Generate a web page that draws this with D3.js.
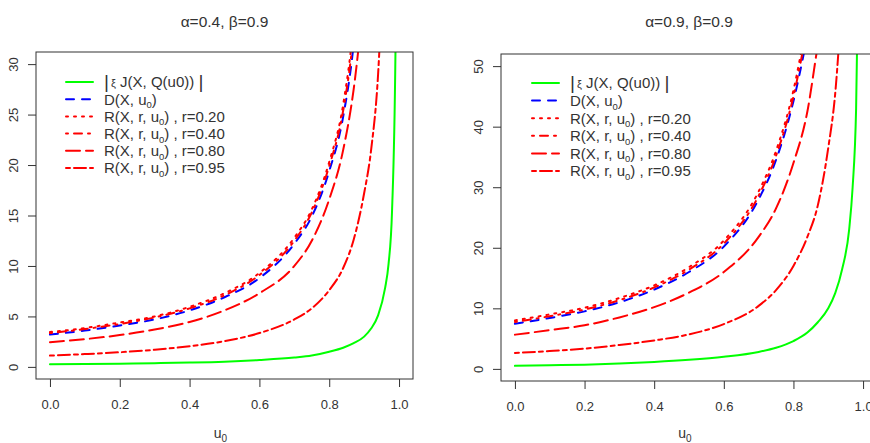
<!DOCTYPE html>
<html><head>
<meta charset="utf-8">
<script src="https://d3js.org/d3.v7.min.js"></script>
<style>
  body { margin: 0; background: #fff; }
  text { font-family: "Liberation Sans", Arial, sans-serif; fill: #333; }
</style>
</head>
<body>
<svg id="chart" width="870" height="443"></svg>
<script>
  // u0 grid shared by every curve (null = curve has already left the plot)
  const U = [0, 0.1, 0.2, 0.3, 0.4, 0.5, 0.6, 0.7, 0.75, 0.8, 0.84, 0.87, 0.9, 0.92, 0.94, 0.96, 0.97, 0.98, 0.99, 0.995];

  // alpha=0.4, beta=0.9
  const leftJ   = [0.25, 0.28, 0.32, 0.37, 0.43, 0.52, 0.68, 0.92, 1.12, 1.5, 1.9, 2.35, 3.0, 3.8, 5.1, 7.8, 10.2, 15.5, 32, 60];
  const leftD   = [3.2, 3.6, 4.1, 4.7, 5.6, 6.9, 8.8, 12.2, 14.9, 19.4, 24.8, 32, 45, null, null, null, null, null, null, null];
  const leftR20 = [3.45, 3.85, 4.4, 5.0, 5.95, 7.3, 9.3, 12.8, 15.6, 20.3, 26, 34, 48, null, null, null, null, null, null, null];
  const leftR40 = [3.35, 3.75, 4.25, 4.9, 5.8, 7.1, 9.1, 12.5, 15.3, 19.9, 25.4, 33, 46, null, null, null, null, null, null, null];
  const leftR80 = [2.45, 2.75, 3.15, 3.7, 4.45, 5.6, 7.3, 10.0, 12.5, 16.6, 21.5, 27.5, 37, null, null, null, null, null, null, null];
  const leftR95 = [1.12, 1.27, 1.45, 1.7, 2.05, 2.55, 3.35, 4.7, 5.8, 7.6, 9.8, 12.6, 17.2, 21.5, 29, 45, null, null, null, null];

  // alpha=0.9, beta=0.9
  const rightJ   = [0.5, 0.6, 0.7, 0.9, 1.15, 1.5, 2.0, 2.8, 3.5, 4.6, 6.0, 7.7, 10.0, 12.5, 16.5, 23, 30, 43, 80, null];
  const rightD   = [7.45, 8.4, 9.5, 11.0, 13.1, 16.0, 20.2, 28.0, 34.5, 44.2, 55, null, null, null, null, null, null, null, null, null];
  const rightR20 = [8.0, 9.0, 10.1, 11.7, 13.8, 16.8, 21.2, 29.3, 36, 46, 58, null, null, null, null, null, null, null, null, null];
  const rightR40 = [7.75, 8.7, 9.8, 11.35, 13.45, 16.4, 20.7, 28.6, 35.2, 45, 56.5, null, null, null, null, null, null, null, null, null];
  const rightR80 = [5.65, 6.4, 7.2, 8.5, 10.2, 12.6, 16, 21.8, 26.5, 34, 42.5, 53.5, 64, null, null, null, null, null, null, null];
  const rightR95 = [2.63, 2.95, 3.35, 3.95, 4.7, 5.7, 7.4, 10.4, 13.0, 17.0, 21.8, 27.0, 36.5, 45.5, 62, null, null, null, null, null];

  const xTicks = [0, 0.2, 0.4, 0.6, 0.8, 1.0];
  const legendR = ["0.20", "0.40", "0.80", "0.95"];

  // line styles, R lty patterns scaled by lwd=2
  const styles = [
    {color: "#00ff00", dash: null},
    {color: "#0000ff", dash: "8,8"},
    {color: "#ff0000", dash: "2,6"},
    {color: "#ff0000", dash: "2,6,8,6"},
    {color: "#ff0000", dash: "14,6"},
    {color: "#ff0000", dash: "4,4,12,4"}
  ];

  const panels = [
    {title: "α=0.4, β=0.9", series: [leftJ, leftD, leftR20, leftR40, leftR80, leftR95],
     ylim: [0, 30], yTicks: [0, 5, 10, 15, 20, 25, 30],
     xr: [36, 413], yr: [379, 52], labX: 18, legX: 66, legY: 82, legStep: 17.2},
    {title: "α=0.9, β=0.9", series: [rightJ, rightD, rightR20, rightR40, rightR80, rightR95],
     ylim: [0, 50], yTicks: [0, 10, 20, 30, 40, 50],
     xr: [501, 877], yr: [381, 54], labX: 483, legX: 532, legY: 83, legStep: 17.6}
  ];

  const svg = d3.select("#chart");

  panels.forEach((p, i) => {
    const ext = (p.ylim[1] - p.ylim[0]) * 0.04;
    const x = d3.scaleLinear().domain([-0.04, 1.04]).range(p.xr);
    const y = d3.scaleLinear().domain([p.ylim[0] - ext, p.ylim[1] + ext]).range(p.yr);
    const g = svg.append("g");
    const midX = (p.xr[0] + p.xr[1]) / 2;

    g.append("clipPath").attr("id", "clip" + i)
      .append("rect")
      .attr("x", p.xr[0]).attr("y", p.yr[1])
      .attr("width", p.xr[1] - p.xr[0]).attr("height", p.yr[0] - p.yr[1]);

    // curves
    const line = d3.line()
      .defined(d => d[1] !== null)
      .x(d => x(d[0])).y(d => y(d[1]))
      .curve(d3.curveMonotoneX);

    p.series.forEach((vals, k) => {
      g.append("path")
        .attr("clip-path", `url(#clip${i})`)
        .attr("d", line(U.map((u, j) => [u, vals[j]])))
        .attr("fill", "none")
        .attr("stroke", styles[k].color)
        .attr("stroke-width", 2)
        .attr("stroke-linecap", "round")
        .attr("stroke-dasharray", styles[k].dash);
    });

    // box
    g.append("rect")
      .attr("x", p.xr[0]).attr("y", p.yr[1])
      .attr("width", p.xr[1] - p.xr[0]).attr("height", p.yr[0] - p.yr[1])
      .attr("fill", "none").attr("stroke", "#333").attr("stroke-width", 1);

    // x axis
    const xa = g.append("g").attr("transform", `translate(0,${p.yr[0]})`)
      .call(d3.axisBottom(x).tickValues(xTicks).tickFormat(d3.format(".1f")).tickSize(8).tickPadding(13));
    xa.select(".domain").remove();
    xa.selectAll("line").attr("stroke", "#333");
    xa.selectAll("text").attr("font-size", 13).attr("fill", "#333")
      .attr("font-family", "Liberation Sans, Arial, sans-serif");

    // y axis
    const ya = g.append("g").attr("transform", `translate(${p.xr[0]},0)`)
      .call(d3.axisLeft(y).tickValues(p.yTicks).tickSize(8).tickFormat(d => d));
    ya.select(".domain").remove();
    ya.selectAll("line").attr("stroke", "#333");
    ya.selectAll("text").remove();
    ya.selectAll(".tick").append("text")
      .attr("transform", `translate(${p.labX - p.xr[0]},0) rotate(-90)`)
      .attr("text-anchor", "middle")
      .attr("font-size", 13)
      .text(d => d);

    // title
    g.append("text").attr("x", midX).attr("y", 27)
      .attr("text-anchor", "middle").attr("font-size", 15.5)
      .text(p.title);

    // x label
    const xl = g.append("text").attr("x", midX - 4).attr("y", 438)
      .attr("text-anchor", "middle").attr("font-size", 14);
    xl.append("tspan").text("u");
    xl.append("tspan").attr("font-size", 10).attr("dy", 4).text("0");

    // legend
    styles.forEach((s, k) => {
      const ly = p.legY + k * p.legStep;
      g.append("line")
        .attr("x1", p.legX).attr("x2", p.legX + 27)
        .attr("y1", ly).attr("y2", ly)
        .attr("stroke", s.color).attr("stroke-width", 2)
        .attr("stroke-linecap", "round")
        .attr("stroke-dasharray", s.dash);
      const t = g.append("text").attr("x", p.legX + 38).attr("y", ly + 5.4).attr("font-size", 15);
      if (k === 0) {
        t.append("tspan").attr("font-size", 19).attr("dy", 1).text("|");
        t.append("tspan").attr("font-size", 11).attr("dy", -1).attr("dx", 2).text("ξ");
        t.append("tspan").text(" J(X, Q(u0)) ");
        t.append("tspan").attr("font-size", 19).attr("dy", 1).text("|");
      } else if (k === 1) {
        t.append("tspan").text("D(X, u");
        t.append("tspan").attr("font-size", 9.5).attr("dy", 3.5).text("0");
        t.append("tspan").attr("dy", -3.5).text(")");
      } else {
        t.append("tspan").text("R(X, r, u");
        t.append("tspan").attr("font-size", 9.5).attr("dy", 3.5).text("0");
        t.append("tspan").attr("dy", -3.5).text(") , r=" + legendR[k - 2]);
      }
    });
  });
</script>
</body>
</html>
